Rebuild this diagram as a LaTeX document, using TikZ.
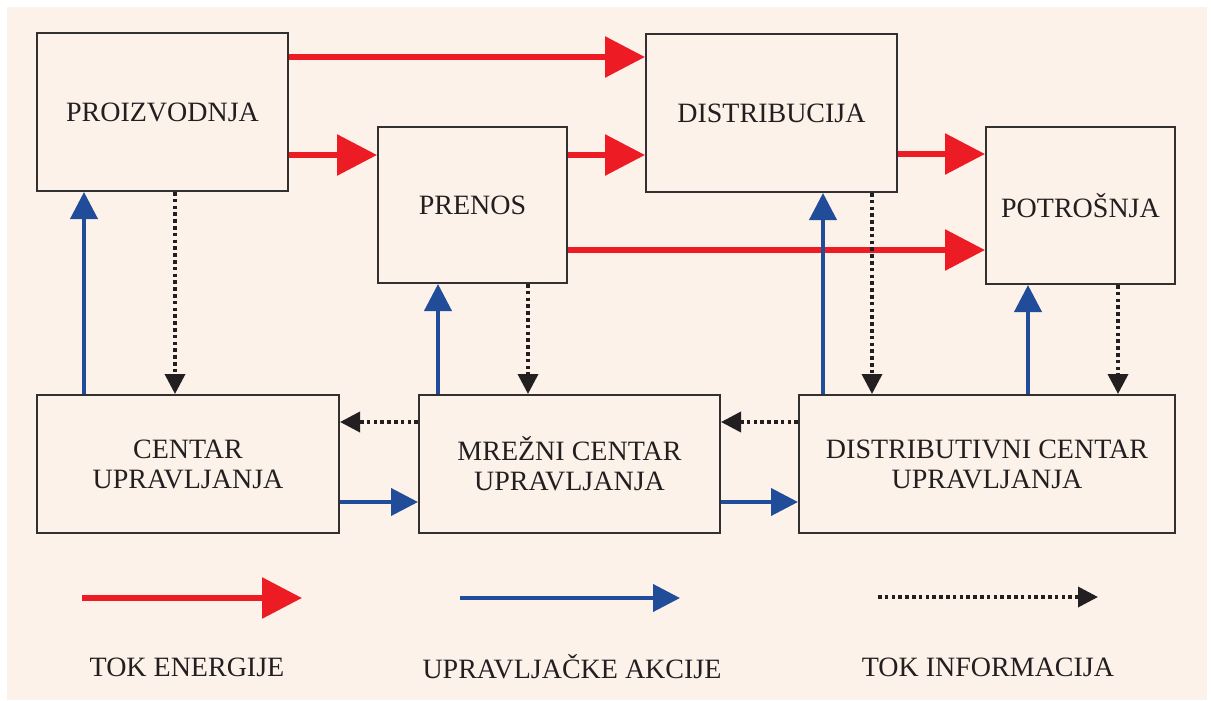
\documentclass[tikz,border=0pt]{standalone}
\usepackage{fontspec}
\setmainfont{Liberation Serif}
\usetikzlibrary{arrows.meta}

\definecolor{pozadina}{RGB}{253,242,234}
\definecolor{crvena}{RGB}{237,28,36}
\definecolor{plava}{RGB}{33,76,153}
\definecolor{okvir}{RGB}{50,48,48}
\definecolor{tekst}{RGB}{35,31,32}

\begin{document}
\begin{tikzpicture}[x=0.5pt, y=-0.5pt,
    blok/.style={draw=okvir, line width=1pt, align=center, text=tekst,
        font=\fontsize{14}{15}\selectfont, inner sep=0pt},
    energija/.style={crvena, line width=3pt, -{Triangle[length=20pt,width=20pt]}},
    upravljanje/.style={plava, line width=2pt, -{Triangle[length=13.5pt,width=13.5pt]}},
    informacija/.style={tekst, line width=1.8pt, dash pattern=on 1.8pt off 1.6pt,
        -{Triangle[length=10pt,width=10pt]}},
    legenda/.style={text=tekst, font=\fontsize{14}{15}\selectfont}]

        % Background
        \useasboundingbox (0,0) rectangle (1211,701);
        \fill[pozadina] (7,7) rectangle (1207,700);

        % Boxes
        \node[blok, minimum width=125.5pt, minimum height=79pt] (proiz) at (162.5,112) {PROIZVODNJA};
        \node[blok, minimum width=94.5pt, minimum height=78pt] (prenos) at (472.5,205) {PRENOS};
        \node[blok, minimum width=125.5pt, minimum height=79pt] (distrib) at (771.5,113) {DISTRIBUCIJA};
        \node[blok, minimum width=94.5pt, minimum height=78.5pt] (potros) at (1080.5,205.5) {POTROŠNJA};
        \node[blok, minimum width=151pt, minimum height=69pt] (centar) at (188,464) {CENTAR\\UPRAVLJANJA};
        \node[blok, minimum width=150.5pt, minimum height=69pt] (mrezni) at (569.5,464) {MREŽNI CENTAR\\UPRAVLJANJA};
        \node[blok, minimum width=188pt, minimum height=69pt] (distcentar) at (987,464) {DISTRIBUTIVNI CENTAR\\UPRAVLJANJA};

        % Energy flow
        \draw[energija] (proiz.east |- 0,57) -- (distrib.west |- 0,57);
        \draw[energija] (proiz.east |- 0,155) -- (prenos.west |- 0,155);
        \draw[energija] (prenos.east |- 0,155) -- (distrib.west |- 0,155);
        \draw[energija] (distrib.east |- 0,154) -- (potros.west |- 0,154);
        \draw[energija] (prenos.east |- 0,250) -- (potros.west |- 0,250);

        % Control actions
        \draw[upravljanje] (centar.north -| 84,0) -- (proiz.south -| 84,0);
        \draw[upravljanje] (mrezni.north -| 438,0) -- (prenos.south -| 438,0);
        \draw[upravljanje] (distcentar.north -| 823,0) -- (distrib.south -| 823,0);
        \draw[upravljanje] (distcentar.north -| 1028,0) -- (potros.south -| 1028,0);
        \draw[upravljanje] (centar.east |- 0,502) -- (mrezni.west |- 0,502);
        \draw[upravljanje] (mrezni.east |- 0,502) -- (distcentar.west |- 0,502);

        % Information flow
        \draw[informacija] (proiz.south -| 175,0) -- (centar.north -| 175,0);
        \draw[informacija] (prenos.south -| 528,0) -- (mrezni.north -| 528,0);
        \draw[informacija] (distrib.south -| 872,0) -- (distcentar.north -| 872,0);
        \draw[informacija] (potros.south -| 1118,0) -- (distcentar.north -| 1118,0);
        \draw[informacija] (mrezni.west |- 0,422) -- (centar.east |- 0,422);
        \draw[informacija] (distcentar.west |- 0,422) -- (mrezni.east |- 0,422);

        % Legend
        \coordinate (e1) at (82,598);
        \coordinate (e2) at (302,598);
        \coordinate (u1) at (460,598);
        \coordinate (u2) at (680,598);
        \coordinate (i1) at (878,597);
        \coordinate (i2) at (1098,597);
        \draw[energija] (e1) -- (e2);
        \draw[upravljanje] (u1) -- (u2);
        \draw[informacija] (i1) -- (i2);
        \node[legenda] (lenergija) at (187,667) {TOK ENERGIJE};
        \node[legenda] (lupravljanje) at (572,667) {UPRAVLJAČKE AKCIJE};
        \node[legenda] (linformacija) at (988,667) {TOK INFORMACIJA};

\end{tikzpicture}
\end{document}
